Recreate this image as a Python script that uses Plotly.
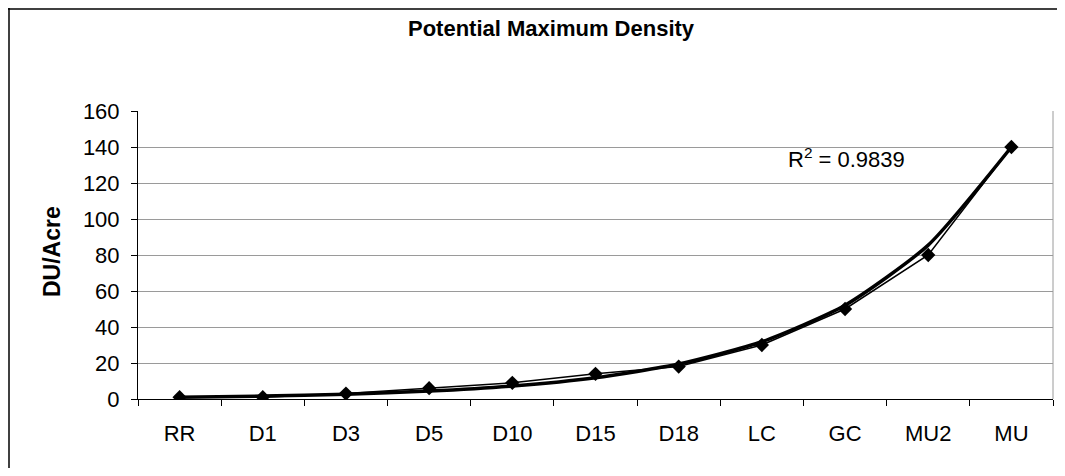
import plotly.graph_objects as go

categories = ["RR", "D1", "D3", "D5", "D10", "D15", "D18", "LC", "GC", "MU2", "MU"]
density = [1, 1, 3, 6, 9, 14, 18, 30, 50, 80, 140]
trend = [1.0, 1.6, 2.7, 4.4, 7.2, 11.8, 19.4, 31.8, 52.1, 85.5, 140]
y_ticks = [0, 20, 40, 60, 80, 100, 120, 140, 160]

FONT = "Liberation Sans, Arial, sans-serif"

W, H = 1049, 460
L, R, T, B = 130, 4, 103, 69
PW, PH = W - L - R, H - T - B

fig = go.Figure()
fig.add_trace(go.Scatter(
    x=categories, y=trend, mode="lines",
    line=dict(color="black", width=3.5, shape="spline", smoothing=0.6),
    showlegend=False, hoverinfo="skip"))
fig.add_trace(go.Scatter(
    x=categories, y=density, mode="lines+markers",
    line=dict(color="black", width=1.5),
    marker=dict(symbol="diamond", size=11, color="black"),
    showlegend=False))

fig.update_layout(
    width=W, height=H,
    margin=dict(l=L, r=R, t=T, b=B),
    paper_bgcolor="white", plot_bgcolor="white",
    font=dict(family=FONT, color="black"),
    xaxis=dict(type="category", range=[-0.5, 10.5], showline=True, linecolor="black",
               linewidth=1, ticks="outside", ticklen=6, tickcolor="black",
               tickson="boundaries", showgrid=False, tickfont=dict(size=22),
               ticklabelstandoff=15, fixedrange=True),
    yaxis=dict(range=[0, 160], tickvals=y_ticks, showline=True, linecolor="black",
               linewidth=1, ticks="outside", ticklen=6, tickcolor="black",
               showgrid=True, gridcolor="#9a9a9a", gridwidth=1, zeroline=False,
               tickfont=dict(size=22), ticklabelstandoff=7),
    annotations=[
        dict(text="<b>Potential Maximum Density</b>", xref="paper", yref="paper",
             x=(543 - L) / PW, y=(H - B - 20) / PH, showarrow=False,
             font=dict(size=22), xanchor="center", yanchor="middle"),
        dict(text="<b>DU/Acre</b>", xref="paper", yref="paper", textangle=-90,
             x=(44 - L) / PW, y=(H - B - (252 - 8)) / PH, showarrow=False,
             font=dict(size=23), xanchor="center", yanchor="middle"),
        dict(text="R<sup>2</sup> = 0.9839", xref="paper", yref="paper",
             x=(838 - L) / PW, y=(H - B - 150) / PH, showarrow=False,
             font=dict(size=22), xanchor="center", yanchor="middle"),
    ],
    shapes=[
        dict(type="line", xref="paper", yref="paper", x0=1, x1=1, y0=0, y1=1,
             line=dict(color="#9a9a9a", width=1)),
        dict(type="line", xref="paper", yref="paper",
             x0=-L / PW, x1=1 + R / PW, y0=1 + (T - 1) / PH, y1=1 + (T - 1) / PH,
             line=dict(color="black", width=1.5)),
        dict(type="line", xref="paper", yref="paper",
             x0=-(L - 1) / PW, x1=-(L - 1) / PW, y0=1 + T / PH, y1=-B / PH,
             line=dict(color="black", width=1.5)),
    ],
)

fig.write_html("out.html")
